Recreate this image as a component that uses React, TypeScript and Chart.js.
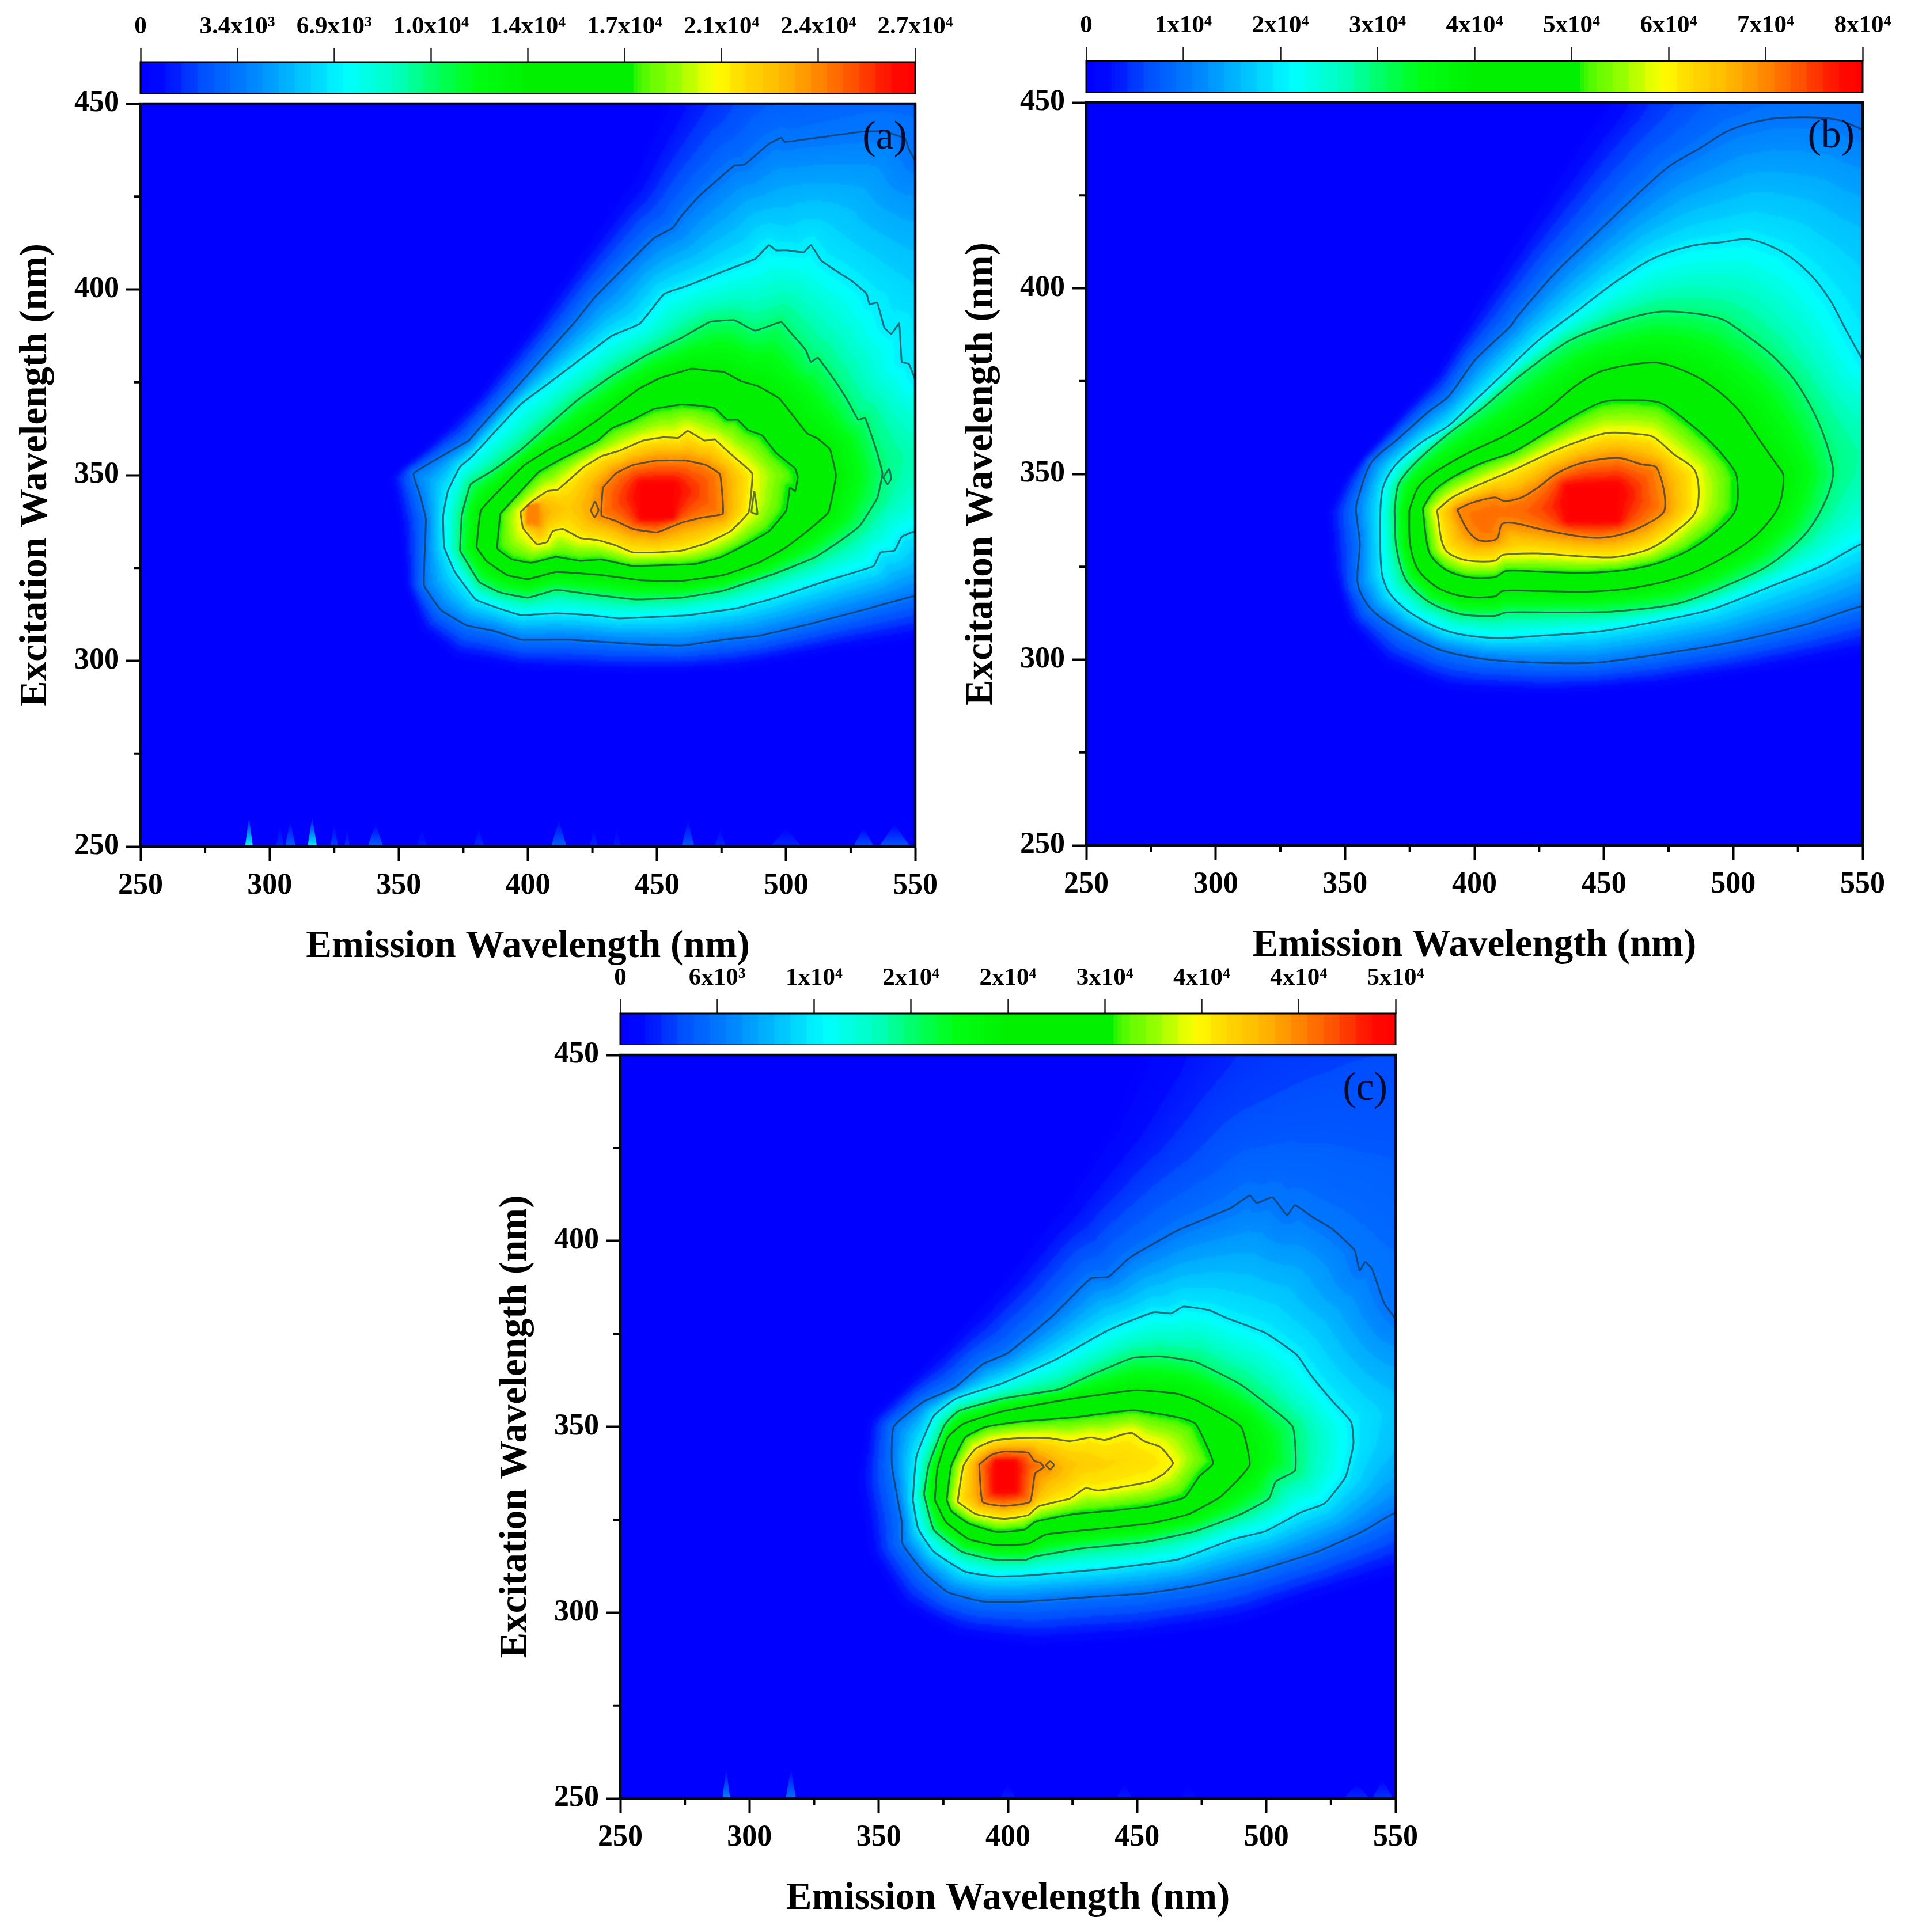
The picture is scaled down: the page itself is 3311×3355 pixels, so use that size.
import React, { useEffect, useRef } from "react";
import { Chart, registerables } from "chart.js";

Chart.register(...registerables);

type Pt = [number, number];

const colorStopPos = [0, 0.03, 0.08, 0.14, 0.2, 0.265, 0.33, 0.38, 0.43, 0.5, 0.64, 0.645, 0.69, 0.74, 0.78, 0.82, 0.87, 0.92, 0.97, 1];
const colorStopRgb = [
  [0, 0, 255], [0, 10, 255], [0, 80, 255], [0, 130, 255], [0, 190, 255], [0, 255, 255], [0, 255, 190], [0, 255, 100], [0, 255, 20], [0, 240, 0],
  [0, 240, 0], [80, 250, 0], [150, 255, 0], [255, 255, 0], [255, 215, 0], [255, 190, 0], [255, 140, 0], [255, 80, 0], [255, 10, 0], [255, 0, 0],
];
const colorSteps = 48;

const xMajorTicks = [250, 300, 350, 400, 450, 500, 550];
const xMinorTicks = [275, 325, 375, 425, 475, 525];
const yMinorTicks = [275, 325, 375, 425];

const barLabelsA = ["0", "3.4x10³", "6.9x10³", "1.0x10⁴", "1.4x10⁴", "1.7x10⁴", "2.1x10⁴", "2.4x10⁴", "2.7x10⁴"];
const barLabelsB = ["0", "1x10⁴", "2x10⁴", "3x10⁴", "4x10⁴", "5x10⁴", "6x10⁴", "7x10⁴", "8x10⁴"];
const barLabelsC = ["0", "6x10³", "1x10⁴", "2x10⁴", "2x10⁴", "3x10⁴", "4x10⁴", "4x10⁴", "5x10⁴"];

// ---- panel (a): iso-intensity outlines (emission nm, excitation nm) ----
const a0: Pt[] = [[452,450],[440,430],[420,410],[400,390],[380,372],[360,358],[346,350],[350,335],[352,320],[358,308],[372,300],[400,297],[440,296],[480,297],[520,302],[560,306],[560,460],[452,460]];
const a1: Pt[] = [[550,434.5],[547.5,437.8],[546.1,440.6],[538,442.5],[529.9,442.5],[515,441.1],[499.5,439.7],[498.1,440.8],[493.4,439.2],[483.9,433.6],[479.9,433.3],[466.3,425.1],[459.6,419.9],[456.2,416.6],[448.8,413.8],[437.9,406.3],[425.8,397.8],[417.7,390.8],[405.5,381.4],[394.7,372.9],[381.2,362.6],[377.1,359.3],[367.6,355.5],[355.7,350.4],[358.2,344.7],[360.5,338.1],[359.8,320.3],[366.3,313.7],[376.4,309.5],[386.6,308.1],[397.4,305.7],[416.3,305.7],[435.2,304.8],[448.8,304.3],[459.6,304.1],[475.8,305.7],[489.3,306.7],[509.6,310],[529.9,313.7],[550,317.5],[560,317.5],[560,434.5]];
const a2: Pt[] = [[550,375.7],[547.5,380],[544.8,380.4],[543.8,390.8],[540.7,388],[538,389.8],[535.3,396.4],[532.3,396],[531.2,398.8],[525.8,402.1],[521.8,403.9],[513.7,407.7],[509.6,411.9],[506.9,410],[500.1,410.5],[496.1,410.5],[493.4,411.9],[488,408.2],[475.8,404.9],[462.3,401.1],[452.8,398.8],[443.4,390.8],[432.5,387.5],[421.7,381.9],[408.2,374.8],[397.4,369.2],[386.6,361.2],[378.5,355.1],[373.7,352.2],[369,345.7],[367.2,339.1],[367.6,330.6],[371.7,324],[379.8,316.5],[390.6,313.7],[397.4,312.3],[410.9,312.8],[424.4,312.3],[435.2,311.4],[448.8,311.8],[462.3,312.3],[481.2,314.2],[496.1,317],[516.4,321.7],[533.9,325.5],[536.6,329.2],[542,329.7],[544.8,333.4],[550,334.9],[560,334.9],[560,375.7]];
const a3: Pt[] = [[373.7,329.7],[374.4,339.1],[377.8,347.5],[386.6,351.3],[397.4,356.9],[408.2,363.5],[419,370.1],[432.5,376.7],[446,382.3],[459.6,387],[470.4,391.2],[479.9,391.7],[488,388.9],[498.1,391.2],[502.2,388],[507.6,383.7],[509.6,380.4],[512.3,381.6],[520.4,373.9],[524.5,369.2],[527.9,364.9],[530.6,365.4],[535.3,356],[537.3,350.4],[535.3,343.8],[528.5,336.3],[520.4,332],[511,327.8],[496.1,323.6],[475.8,318.9],[459.6,317],[442,316.5],[424.4,317.9],[410.9,319.1],[400.1,317],[389.3,318.4],[381.2,321.2]];
const a4: Pt[] = [[380.1,330.6],[381.8,340.5],[390.6,347.1],[398.7,352.7],[408.2,356.9],[416.3,359.8],[427.1,364.9],[435.2,369.2],[443.4,373.4],[451.5,376.2],[458.2,377.6],[463.6,378.7],[470.4,378.1],[475.8,377.8],[482.6,375.3],[489.3,373.9],[497.4,370.6],[502.8,365.9],[508.2,361.2],[512.3,359.8],[517,356.9],[519.3,349.9],[516.4,340],[508.9,335.3],[500.1,330.6],[489.3,326.4],[475.8,323.1],[458.2,321.4],[443.4,321.7],[428.5,323.1],[410.9,323.9],[400.1,322],[392,323.1],[383.9,326.9]];
const a5: Pt[] = [[389.3,339.6],[396,344.7],[404.1,350.8],[412.3,354.1],[420.4,356.9],[427.1,359.3],[432.5,362.6],[440.6,364.9],[448.8,367.8],[459.6,369],[466.3,368.7],[472.4,368],[477.1,364.9],[481.2,364.9],[485.3,362.1],[490.7,360.7],[496.1,356],[503.5,351.8],[504.5,349.4],[503.5,345.7],[501.5,346.6],[500.1,340.5],[493.4,334.9],[483.9,331.1],[474.4,327.8],[465,326.1],[451.5,325.7],[440.6,325.5],[428.5,327.3],[420.4,326.9],[410.9,328],[401.4,326.4],[394,327.3],[388.2,330.2]];
const a6: Pt[] = [[397.1,340],[401.4,342.8],[407.5,345.7],[411.6,346.1],[421.7,352.2],[428.5,355.1],[435.2,356.5],[444.7,359.3],[452.8,360.2],[458.2,360],[461.9,361.9],[468.4,359.3],[472.4,359.6],[475.8,357.4],[481.2,354.1],[486.9,350.4],[485.5,340],[478.5,334.9],[469,331.6],[459.6,329.7],[450.1,329.2],[440.6,329.2],[433.9,331.1],[427.1,332.5],[420.4,333],[413.6,335.5],[409.6,334.9],[407.5,332],[403.5,331.4],[398.1,335.8]];
const a7: Pt[] = [[429,346.6],[434,350.4],[440.6,352.7],[450,353.9],[461,353.9],[469,352.7],[474.4,350.2],[475.5,339.6],[467.7,338.6],[459.6,337.2],[450,334.6],[440.6,335.5],[434,337.7],[428.5,339.1]];
const a8: Pt[] = [[445,339],[456,339],[456,347],[445,347]];
const aHot7: Pt[] = [[400,337],[404,337],[404,342],[400,342]];
const aLoops: Pt[][] = [
  [[426,343],[427.4,340.5],[425.8,338.6],[424.4,340.5]],
  [[487.7,345.8],[488.9,339.5],[486.6,340]],
  [[540,351.8],[540.7,349],[539.3,347.5],[537.7,349.4]],
];
// emission nm, height nm, intensity fraction, half width nm
const aSpikes: number[][] = [[292,8,0.28,1.5],[304,6,0.05,1.5],[308,7,0.1,2],[316.5,8,0.25,1.8],[325,6,0.07,1.5],[330,5,0.06,1],[341,6,0.1,3],[359,5,0.04,2],[381,5,0.05,2],[412,7,0.1,3],[425.5,5,0.05,1.5],[434.5,5,0.04,1.5],[462,7,0.09,2.5],[474.5,5,0.05,2],[500,5,0.05,6],[530,5,0.08,4],[542,6,0.09,6]];

// ---- panel (b) ----
const b0: Pt[] = [[450,450],[440,440],[420,418],[400,396],[385,378],[365,362],[350,350],[342,340],[344,325],[350,310],[365,298],[390,291],[430,290],[470,292],[510,296],[560,302],[560,460],[450,460]];
const b1: Pt[] = [[550.3,442.6],[540.6,445.3],[528.6,446],[513.7,445.5],[498.8,442.6],[486.9,437.6],[475,432.7],[461.5,424.3],[446.6,414.4],[431.7,404.5],[416.8,392.6],[413.8,389.7],[400.4,380.8],[390,370.9],[382.5,366.9],[370.6,359.5],[360.2,353.1],[354.9,343.2],[354.2,340.2],[355.7,331.3],[354.9,320.4],[360.2,313.5],[372.1,307.6],[387,302.6],[403.4,300.2],[424.3,299.2],[446.6,299.2],[469,301.2],[498.8,304.6],[528.6,309.6],[550.3,314.5],[560,314.5],[560,442.6]];
const b2: Pt[] = [[550.3,380.3],[543.6,388.7],[537.6,396.6],[530.1,403.5],[519.7,409.5],[506.3,413.2],[495.8,412.4],[483.9,411.4],[469,408],[454.1,401.5],[439.2,393.6],[424.3,385.7],[409.4,375.8],[400.4,369.9],[390,363],[379.5,358.5],[369.1,352.1],[364.6,346.2],[363.6,338.2],[364.2,323.4],[367.6,317.5],[376.6,312],[390,307.6],[407.9,305.8],[424.3,306.4],[448.1,307.6],[469,310.1],[491.4,313.5],[513.7,319.5],[534.6,325.4],[550.3,331.3],[560,331.3],[560,380.3]];
const b3: Pt[] = [[369.1,340.2],[370.6,347.1],[376.6,352.6],[388.5,360],[403.4,367.9],[418.3,376.8],[436.2,385.7],[454.1,390.7],[470.5,393.6],[483.9,393.3],[495.8,391.6],[506.3,386.7],[515.2,381.8],[524.2,374.8],[531.6,365.9],[536.1,358],[538.6,350.1],[534.6,341.2],[527.2,333.3],[513.7,325.4],[495.8,319.5],[478,315],[454.1,313],[433.2,312.7],[412.3,312.7],[407.9,311.8],[394.5,312.3],[382.5,315.5],[373.6,321.4],[369.8,330.3]];
const b4: Pt[] = [[374.8,340.2],[378.1,346.2],[384,350.1],[397.4,355.6],[412.3,360.5],[427.3,366.9],[439.2,373.8],[449.6,377.8],[469.7,380],[480.9,377.8],[491.4,373.8],[501.8,367.4],[509.3,360],[516.7,352.6],[519.4,349.6],[517.5,341.2],[509.3,333.8],[497.3,327.9],[482.4,322.9],[463,319.5],[443.7,318.3],[424.3,318.5],[410.9,318.5],[407.9,317],[395.9,317],[385.5,319.5],[378.1,324.4],[375.1,331.3]];
const b5: Pt[] = [[380,340.7],[384,345.2],[391.5,349.1],[403.4,353.1],[415.3,356],[427.3,361],[439.2,365.9],[449.6,369.4],[460,369.9],[472,369.1],[482.4,364],[491.4,358.5],[498.8,352.6],[501.4,349.1],[500.8,340.2],[492.9,334.3],[482.4,329.3],[470.5,325.9],[458.6,324.2],[443.7,323.4],[427.3,323.6],[412.3,323.9],[407.9,322.2],[397.4,322.2],[388.5,324.4],[382.5,328.9]];
const b6: Pt[] = [[385.5,340.2],[391.5,343.7],[403.4,347.6],[415.3,351.1],[427.3,355.1],[439.2,358.5],[451.1,361],[461.5,360.8],[469,360],[476.5,355.6],[485.4,350.6],[485.7,340.2],[476.5,333.8],[467.5,329.8],[454.1,327.6],[439.2,327.9],[424.3,328.6],[410.9,328.2],[407.9,326.6],[395.9,326.9],[388.5,329.8]];
const b7: Pt[] = [[393.3,340.4],[398.9,342.2],[407.9,343.7],[411.6,342.7],[418.3,343.7],[424.3,346.2],[431.7,350.1],[442.2,353.1],[455.6,354.3],[464.5,352.6],[470.5,351.6],[473.5,340.4],[466,336.3],[457.1,333.8],[448.1,332.8],[437.7,333.5],[424.3,335.3],[415.3,336.8],[410.6,336.5],[408.6,332.5],[401.9,332.1],[397.4,334.8]];
const b8: Pt[] = [[437,338],[455,338],[455,346],[437,346]];

// ---- panel (c) ----
const c0: Pt[] = [[450,450],[440,432],[420,410],[400,392],[380,376],[360,362],[345,352],[341,335],[346,315],[358,301],[380,293],[410,290],[450,292],[490,296],[520,303],[560,311],[560,460],[450,460]];
const c1: Pt[] = [[550,379],[545.6,383.2],[540.9,392.4],[538.2,394.3],[536.1,392],[534.1,397.5],[525.3,403.3],[517.2,406.7],[511.1,409.6],[508,406.9],[502.4,411.7],[496.3,410.2],[493.6,412.2],[486.2,408.8],[465.9,402.9],[447,395.4],[438.9,390.3],[432.1,389.9],[417.3,379.8],[399.7,369.7],[390.2,366.8],[379.4,360.5],[367.3,356.7],[355.8,350],[355.1,339.5],[358.9,324.4],[359.2,318.5],[367.3,311],[376.7,305.5],[390.2,303],[407.8,303],[432.1,304.2],[452.4,305.1],[472.6,307.2],[492.9,310.5],[519.9,316.4],[537.5,321.9],[550,326.9],[560,326.9],[560,379]];
const c2: Pt[] = [[363.2,330.3],[364.6,342],[371.3,352.9],[380.1,357.6],[398.3,361.8],[418.6,368.1],[438.9,376],[456.4,380.8],[463.2,380.5],[467.9,382.3],[478,381.3],[484.8,379.2],[499.7,375.2],[511.8,369.3],[517.2,363.9],[525.3,357.1],[532.8,351.3],[533.7,345.4],[530.7,336.6],[522.6,329.4],[513.2,326.9],[499.7,321.9],[487.5,319.8],[465.9,314.3],[438.9,311.8],[407.8,310],[395.6,309.7],[383.5,311],[371.3,316.4],[365.2,322.7]];
const c3: Pt[] = [[367.5,331.9],[369.3,339.5],[375.4,350.4],[380.8,354.2],[398.3,357.6],[420,360.1],[432.1,363.9],[448.3,368.5],[459.1,368.9],[472.6,367.4],[490.2,361.3],[499.7,356.3],[510.2,350],[511.1,338.2],[503.7,335.3],[501,330.7],[490.2,326.5],[472.6,321.9],[452.4,318.9],[428.1,317.2],[410.5,315.1],[406.4,314.1],[394.3,314.3],[382.1,316.4],[371.3,322.3]];
const c4: Pt[] = [[371.7,330.3],[372.7,338.7],[376.7,347.1],[382.8,350.8],[398.3,354.2],[425.4,357.6],[449.7,359.8],[465.9,358.8],[474,356.7],[490.2,350],[493.6,339.9],[490.2,336.6],[482.1,331.1],[470,326.5],[455.1,324],[432.1,322.3],[414.6,321],[407.8,318.5],[395.6,318.1],[384.8,319.8],[376,324.4]];
const c5: Pt[] = [[376.3,330.3],[378.1,339.5],[383.5,347.1],[391.6,350],[405.1,351.4],[425.4,352.5],[448.3,354.4],[465.9,352.5],[472.6,350.8],[479.4,340.2],[474,336.6],[468.3,331],[455.1,328.6],[438.9,327.3],[425.4,326.5],[410.5,324.4],[406.4,322.3],[395.6,321.7],[384.8,324],[378.1,327.3]];
const c6: Pt[] = [[380.5,329.8],[382.8,339.5],[387.5,344.1],[394.3,346.2],[403.7,346.9],[415.9,346.9],[424,346.1],[432.1,347.1],[437.5,346.4],[444.3,347.9],[448.1,348.3],[452.4,346.2],[459.1,344.5],[463.9,340.2],[460.5,337.4],[455.1,335.3],[444.3,333.8],[434.8,332.8],[430.1,333.5],[424,330.7],[411.9,328.6],[407.8,326.2],[398.3,325.2],[387.5,326.5]];
const c7: Pt[] = [[388.9,339.9],[393.6,342.4],[398.3,343.3],[407.8,343],[410.2,340.8],[412.5,340.3],[413.9,339.1],[410.5,337.4],[408.5,329.8],[398.3,328.7],[390.2,329.8]];
const c8: Pt[] = [[396,333],[402,333],[402,340],[396,340]];
const cLoops: Pt[][] = [[[416.3,340.8],[417.9,339.7],[416.3,338.5],[414.8,339.7]]];
const cSpikes: number[][] = [[291,8,0.14,1.5],[316,8,0.12,2],[400,4,0.04,3],[445,4,0.04,3],[470,4,0.03,3],[535,4,0.05,5],[545,5,0.06,4]];

const FONT = "'Liberation Serif', 'Times New Roman', serif";
const LINE_COLOR = "rgba(28,48,62,0.68)";

function colorAt(t: number): number[] {
  const v = Math.max(0, Math.min(1, t));
  let i = 0;
  while (i < colorStopPos.length - 2 && v > colorStopPos[i + 1]) i++;
  const f = (v - colorStopPos[i]) / (colorStopPos[i + 1] - colorStopPos[i]);
  return colorStopRgb[i].map((c, k) => c + (colorStopRgb[i + 1][k] - c) * Math.max(0, Math.min(1, f)));
}

// softly stepped: half continuous, half quantised to the colour-bar steps
function softColor(t: number): number[] {
  const q = colorAt(Math.round(t * colorSteps) / colorSteps);
  const s = colorAt(t);
  return s.map((c, k) => (c + q[k]) / 2);
}

function inside(p: number[], x: number, y: number) {
  let c = false;
  const n = p.length / 2;
  for (let i = 0, j = n - 1; i < n; j = i++) {
    const xi = p[2 * i], yi = p[2 * i + 1], xj = p[2 * j], yj = p[2 * j + 1];
    if (yi > y !== yj > y && x < ((xj - xi) * (y - yi)) / (yj - yi) + xi) c = !c;
  }
  return c;
}

function dist(segs: number[], x: number, y: number) {
  let best = 1e12;
  for (let k = 0; k < segs.length; k += 4) {
    const ax = segs[k], ay = segs[k + 1], dx = segs[k + 2] - ax, dy = segs[k + 3] - ay;
    const l = dx * dx + dy * dy;
    let t = l ? ((x - ax) * dx + (y - ay) * dy) / l : 0;
    t = t < 0 ? 0 : t > 1 ? 1 : t;
    const ex = ax + t * dx - x, ey = ay + t * dy - y;
    const d = ex * ex + ey * ey;
    if (d < best) best = d;
  }
  return Math.sqrt(best);
}

function renderField(chart: any, levels: Pt[][][]) {
  const xs = chart.scales.x, ys = chart.scales.y, area = chart.chartArea;
  const step = 3;
  const w = Math.ceil((area.right - area.left) / step), h = Math.ceil((area.bottom - area.top) / step);
  const polys = levels.map((lv) => lv.map((pts) => pts.flatMap(([x, y]) => [xs.getPixelForValue(x), ys.getPixelForValue(y)])));
  const segs = levels.map((lv) => {
    const out: number[] = [];
    lv.forEach((pts) => {
      pts.forEach((a, i) => {
        const b = pts[(i + 1) % pts.length];
        const off = (a[0] >= 550 && b[0] >= 550) || (a[1] >= 450 && b[1] >= 450);
        if (!off) out.push(xs.getPixelForValue(a[0]), ys.getPixelForValue(a[1]), xs.getPixelForValue(b[0]), ys.getPixelForValue(b[1]));
      });
    });
    return out;
  });
  const off = document.createElement("canvas");
  off.width = w;
  off.height = h;
  const ctx = off.getContext("2d")!;
  const img = ctx.createImageData(w, h);
  const top = levels.length - 1;
  for (let j = 0; j < h; j++) {
    const py = area.top + (j + 0.5) * step;
    for (let i = 0; i < w; i++) {
      const px = area.left + (i + 0.5) * step;
      let k = -1;
      for (let l = top; l >= 0; l--) {
        if (polys[l].some((p) => inside(p, px, py))) { k = l; break; }
      }
      let v = 0;
      if (k === top) v = top;
      else if (k >= 0) {
        const dOut = dist(segs[k], px, py), dIn = dist(segs[k + 1], px, py);
        v = k + dOut / (dOut + dIn + 1e-6);
      }
      const c = softColor(v / top);
      const o = (j * w + i) * 4;
      img.data[o] = c[0]; img.data[o + 1] = c[1]; img.data[o + 2] = c[2]; img.data[o + 3] = 255;
    }
  }
  ctx.putImageData(img, 0, 0);
  return off;
}

function Panel({ rect, levels, lines, spikes, tag, curve }: any) {
  const ref = useRef<HTMLCanvasElement>(null);
  const padL = 244, padR = 60, padT = 45, axisH = 215;
  useEffect(() => {
    let cache: HTMLCanvasElement | null = null;
    const heat = {
      id: "heat",
      beforeDatasetsDraw(chart: any) {
        const { ctx, chartArea: a, scales } = chart;
        if (!cache) cache = renderField(chart, levels);
        ctx.save();
        ctx.beginPath();
        ctx.rect(a.left, a.top, a.right - a.left, a.bottom - a.top);
        ctx.clip();
        ctx.imageSmoothingEnabled = true;
        ctx.imageSmoothingQuality = "high";
        ctx.drawImage(cache, a.left, a.top, a.right - a.left, a.bottom - a.top);
        (spikes || []).forEach(([x, ht, s, hw]: number[]) => {
          const base = scales.y.getPixelForValue(250), tip = scales.y.getPixelForValue(250 + ht);
          const c = colorAt(s).map(Math.round);
          const g = ctx.createLinearGradient(0, base, 0, tip);
          g.addColorStop(0, `rgba(${c[0]},${c[1]},${c[2]},1)`);
          g.addColorStop(1, `rgba(${c[0]},${c[1]},${c[2]},0)`);
          ctx.fillStyle = g;
          ctx.beginPath();
          ctx.moveTo(scales.x.getPixelForValue(x - hw), base);
          ctx.lineTo(scales.x.getPixelForValue(x), tip);
          ctx.lineTo(scales.x.getPixelForValue(x + hw), base);
          ctx.closePath();
          ctx.fill();
        });
        ctx.restore();
      },
      afterDraw(chart: any) {
        const { ctx, chartArea: a, scales } = chart;
        ctx.save();
        ctx.strokeStyle = "#000814";
        ctx.lineWidth = 4.5;
        ctx.strokeRect(a.left, a.top, a.right - a.left, a.bottom - a.top);
        ctx.strokeStyle = "#000";
        ctx.lineWidth = 4;
        ctx.beginPath();
        xMinorTicks.forEach((v) => {
          const p = scales.x.getPixelForValue(v);
          ctx.moveTo(p, a.bottom);
          ctx.lineTo(p, a.bottom + 12);
        });
        yMinorTicks.forEach((v) => {
          const p = scales.y.getPixelForValue(v);
          ctx.moveTo(a.left, p);
          ctx.lineTo(a.left - 12, p);
        });
        ctx.stroke();
        ctx.fillStyle = "#000a2a";
        ctx.font = `70px ${FONT}`;
        ctx.textAlign = "right";
        ctx.textBaseline = "alphabetic";
        ctx.fillText(tag, a.right - 14, a.top + 78);
        ctx.restore();
      },
    };
    const axisFont = { family: FONT, size: 52, weight: "bold" as const };
    const titleFont = { family: FONT, size: 67, weight: "bold" as const };
    const chart = new Chart(ref.current!, {
      type: "scatter",
      data: {
        datasets: lines.map((pts: Pt[]) => ({
          data: [...pts, pts[0]].map(([x, y]) => ({ x, y })),
          showLine: true,
          borderColor: LINE_COLOR,
          borderWidth: 3,
          pointRadius: 0,
          tension: curve,
          fill: false,
        })),
      },
      options: {
        animation: false,
        responsive: false,
        plugins: { legend: { display: false }, tooltip: { enabled: false } },
        layout: { padding: { left: 0, right: padR, top: padT, bottom: 0 } },
        scales: {
          x: {
            type: "linear",
            min: 250,
            max: 550,
            afterBuildTicks: (s: any) => { s.ticks = xMajorTicks.map((value) => ({ value })); },
            afterFit: (s: any) => { s.height = axisH; },
            ticks: { font: axisFont, color: "#000", padding: 12, maxRotation: 0, autoSkip: false },
            grid: { drawOnChartArea: false, drawTicks: true, tickLength: 25, tickWidth: 4, tickColor: "#000" },
            border: { color: "#000", width: 4 },
            title: { display: true, text: "Emission Wavelength (nm)", font: titleFont, color: "#000", padding: 0 },
          },
          y: {
            type: "linear",
            min: 250,
            max: 450,
            ticks: { stepSize: 50, font: axisFont, color: "#000", padding: 12 },
            afterFit: (s: any) => { s.width = padL; },
            grid: { drawOnChartArea: false, drawTicks: true, tickLength: 25, tickWidth: 4, tickColor: "#000" },
            border: { color: "#000", width: 4 },
            title: { display: true, text: "Excitation Wavelength (nm)", font: titleFont, color: "#000", padding: { top: 22, bottom: 0 } },
          },
        },
      } as any,
      plugins: [heat],
    });
    return () => chart.destroy();
  }, []);
  return (
    <canvas
      ref={ref}
      width={rect.r - rect.l + padL + padR}
      height={rect.b - rect.t + padT + axisH}
      style={{ position: "absolute", left: rect.l - padL, top: rect.t - padT, display: "block" }}
    />
  );
}

function ColorBar({ rect, labels }: any) {
  const ref = useRef<HTMLCanvasElement>(null);
  const padL = 120, padR = 120, axisH = 108, barH = 55, gapBelow = 17;
  useEffect(() => {
    const frame = {
      id: "frame",
      afterDraw(chart: any) {
        const { ctx, chartArea: a } = chart;
        ctx.save();
        ctx.strokeStyle = "#000";
        ctx.lineWidth = 3;
        ctx.strokeRect(a.left, a.top, a.right - a.left, a.bottom - a.top);
        ctx.restore();
      },
    };
    const segCount = colorSteps * 4;
    const segs = Array.from({ length: segCount }, (_, i) => {
      const c = softColor((i + 0.5) / segCount).map(Math.round);
      const col = `rgb(${c[0]},${c[1]},${c[2]})`;
      return { data: [8 / segCount], backgroundColor: col, borderWidth: 0, inflateAmount: 1.2, barPercentage: 1, categoryPercentage: 1 };
    });
    const chart = new Chart(ref.current!, {
      type: "bar",
      data: { labels: ["scale"], datasets: segs },
      options: {
        indexAxis: "y",
        animation: false,
        responsive: false,
        plugins: { legend: { display: false }, tooltip: { enabled: false } },
        layout: { padding: { left: padL, right: padR, top: 0, bottom: 0 } },
        scales: {
          x: {
            type: "linear",
            position: "top",
            stacked: true,
            min: 0,
            max: 8,
            afterFit: (s: any) => { s.height = axisH; },
            ticks: { stepSize: 1, autoSkip: false, maxRotation: 0, padding: 10, color: "#000", font: { family: FONT, size: 43, weight: "bold" }, callback: (v: any) => labels[v] },
            grid: { drawOnChartArea: false, drawTicks: true, tickLength: 25, tickWidth: 2.5, tickColor: "#222" },
            border: { display: false },
          },
          y: { type: "category", stacked: true, display: false },
        },
      } as any,
      plugins: [frame],
    });
    return () => chart.destroy();
  }, []);
  return (
    <canvas
      ref={ref}
      width={rect.r - rect.l + padL + padR}
      height={axisH + barH}
      style={{ position: "absolute", left: rect.l - padL, top: rect.t - gapBelow - barH - axisH, display: "block" }}
    />
  );
}

const rectA = { l: 244, r: 1589, t: 180, b: 1470 };
const rectB = { l: 1886, r: 3234, t: 178, b: 1468 };
const rectC = { l: 1077, r: 2423, t: 1832, b: 3123 };

export default function App() {
  return (
    <div style={{ position: "absolute", left: 0, top: 0, width: 3311, height: 3355, background: "#fff", overflow: "hidden" }}>
      <ColorBar rect={rectA} labels={barLabelsA} />
      <ColorBar rect={rectB} labels={barLabelsB} />
      <ColorBar rect={rectC} labels={barLabelsC} />
      <Panel rect={rectA} tag="(a)" spikes={aSpikes} curve={0.1}
        levels={[[a0], [a1], [a2], [a3], [a4], [a5], [a6], [a7, aHot7], [a8]]}
        lines={[a1, a2, a3, a4, a5, a6, a7, ...aLoops]} />
      <Panel rect={rectB} tag="(b)" curve={0.3}
        levels={[[b0], [b1], [b2], [b3], [b4], [b5], [b6], [b7], [b8]]}
        lines={[b1, b2, b3, b4, b5, b6, b7]} />
      <Panel rect={rectC} tag="(c)" spikes={cSpikes} curve={0.15}
        levels={[[c0], [c1], [c2], [c3], [c4], [c5], [c6], [c7], [c8]]}
        lines={[c1, c2, c3, c4, c5, c6, c7, ...cLoops]} />
    </div>
  );
}
